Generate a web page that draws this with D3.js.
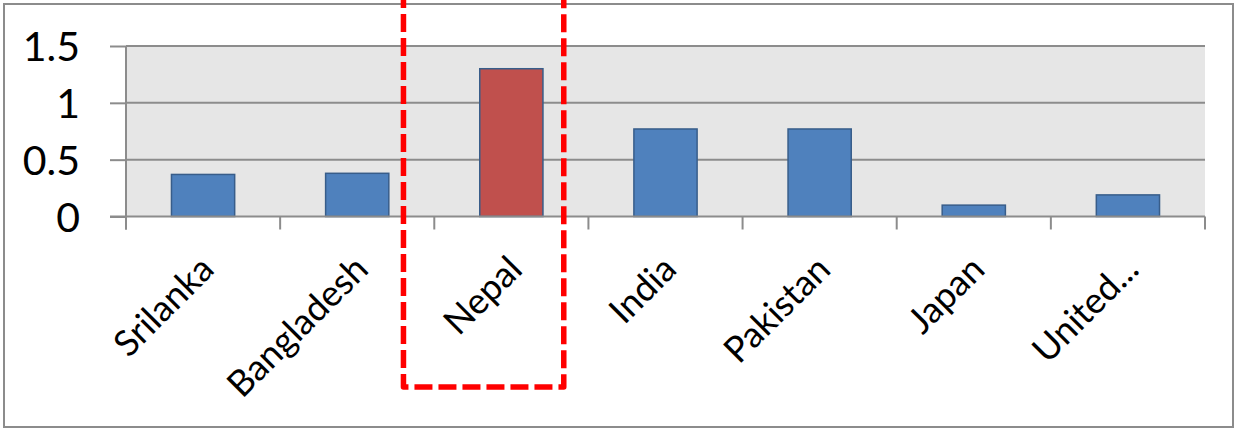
<!DOCTYPE html>
<html>
<head>
<meta charset="utf-8">
<script src="https://cdn.jsdelivr.net/npm/d3@7"></script>
<style>
  html, body { margin: 0; padding: 0; background: #fff; }
  svg { display: block; }
  text { font-family: Lato, "Open Sans", sans-serif; fill: #000; }
</style>
</head>
<body>
<svg id="chart" width="1235" height="429"></svg>
<script>
// Countries along the category axis
const categories = ["Srilanka", "Bangladesh", "Nepal", "India", "Pakistan", "Japan", "United..."];
// One value per country
const values = [0.37, 0.38, 1.30, 0.77, 0.77, 0.10, 0.19];
// Value-axis ticks
const yTicks = [0, 0.5, 1, 1.5];
// Country singled out with its own colour and a dashed frame
const highlight = "Nepal";

const plot = { left: 126, right: 1205, top: 46, bottom: 216.5 };

const svg = d3.select("#chart");

// Chart frame
svg.append("rect")
  .attr("x", 4).attr("y", 4).attr("width", 1229).attr("height", 423)
  .attr("fill", "#fff").attr("stroke", "#8c8c8c").attr("stroke-width", 2);

const x = d3.scaleBand().domain(categories)
  .range([plot.left, plot.right]).paddingInner(0.59).paddingOuter(0.295);
const xOuter = d3.scaleBand().domain(categories).range([plot.left, plot.right]);
const y = d3.scaleLinear().domain([0, 1.5]).range([plot.bottom, plot.top]);

// Plot background
svg.append("rect")
  .attr("x", plot.left).attr("y", plot.top)
  .attr("width", plot.right - plot.left).attr("height", plot.bottom - plot.top)
  .attr("fill", "#e6e6e6");

// Horizontal gridlines
svg.append("g").selectAll("line").data(yTicks.filter(d => d > 0)).join("line")
  .attr("x1", plot.left).attr("x2", plot.right)
  .attr("y1", d => y(d)).attr("y2", d => y(d))
  .attr("stroke", "#8c8c8c").attr("stroke-width", 2);

// Value axis
const yAxis = svg.append("g")
  .attr("transform", `translate(${plot.left},0)`)
  .call(d3.axisLeft(y).tickValues(yTicks).tickFormat(d3.format("")).tickSize(16).tickPadding(30));
yAxis.select(".domain").attr("stroke", "#8c8c8c").attr("stroke-width", 2)
  .attr("d", `M0,${plot.top}V${plot.bottom + 13}`);
yAxis.selectAll(".tick line").attr("stroke", "#8c8c8c").attr("stroke-width", 2);
yAxis.selectAll(".tick text")
  .style("font-size", "41px").attr("fill", "#000").attr("dy", "0.36em");

// Bars
svg.append("g").selectAll("rect").data(categories).join("rect")
  .attr("x", d => x(d))
  .attr("y", (d, i) => y(values[i]))
  .attr("width", x.bandwidth())
  .attr("height", (d, i) => y(0) - y(values[i]))
  .attr("fill", d => d === highlight ? "#c0504d" : "#4f81bd")
  .attr("stroke", "#385d8a").attr("stroke-width", 1.5);

// Category axis: baseline and boundary ticks
const cat = svg.append("g");
cat.append("line")
  .attr("x1", plot.left - 16).attr("x2", plot.right)
  .attr("y1", y(0)).attr("y2", y(0))
  .attr("stroke", "#8c8c8c").attr("stroke-width", 2);
const bounds = categories.map(c => xOuter(c)).concat([plot.right]);
cat.selectAll("line.tk").data(bounds).join("line").attr("class", "tk")
  .attr("x1", d => d).attr("x2", d => d)
  .attr("y1", y(0)).attr("y2", y(0) + 13)
  .attr("stroke", "#8c8c8c").attr("stroke-width", 2);

// Rotated category labels
cat.selectAll("text").data(categories).join("text")
  .attr("transform", d => `translate(${xOuter(d) + xOuter.bandwidth() / 2 + 4},${y(0) + 46}) rotate(-45)`)
  .attr("text-anchor", "end")
  .attr("dy", "0.35em")
  .style("font-size", "36px")
  .text(d => d);

// Dashed frame around the highlighted country
const hx0 = xOuter(highlight) - 0.2 * xOuter.step();
const hx1 = hx0 + 1.04 * xOuter.step();
const hy1 = 387;
svg.append("path")
  .attr("d", `M${hx0},-10V${hy1}H${hx1}V-10`)
  .attr("fill", "none").attr("stroke", "#ff0000").attr("stroke-width", 5.5)
  .attr("stroke-dasharray", "18,6").attr("stroke-linejoin", "round");
</script>
</body>
</html>
